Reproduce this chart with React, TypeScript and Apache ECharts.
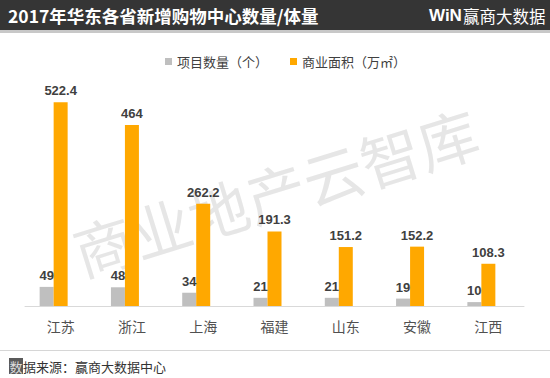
import React, { useEffect, useRef } from "react";
import * as echarts from "echarts";

const categories = ["江苏", "浙江", "上海", "福建", "山东", "安徽", "江西"];
const projectCount = [49, 48, 34, 21, 21, 19, 10];
const commercialArea = [522.4, 464, 262.2, 191.3, 151.2, 152.2, 108.3];
const seriesNames = ["项目数量（个）", "商业面积（万㎡）"];
const titleText = "2017年华东各省新增购物中心数量/体量";
const sourceText = "据来源：赢商大数据中心";

const CJK = '"Noto Sans CJK SC", "Noto Sans", sans-serif';
const LATIN = '"Liberation Sans", Arial, sans-serif';

export default function App() {
  const ref = useRef<HTMLDivElement>(null);
  useEffect(() => {
    if (!ref.current) return;
    const chart = echarts.init(ref.current, undefined, { renderer: "svg" });
    const valueLabel = {
      show: true,
      position: "top",
      distance: 5,
      fontSize: 13,
      fontWeight: "bold",
      color: "#404040",
      fontFamily: LATIN,
    };
    chart.setOption({
      animation: false,
      backgroundColor: "#ffffff",
      legend: {
        data: seriesNames,
        left: 160,
        top: 50,
        icon: "rect",
        itemWidth: 7,
        itemHeight: 7,
        itemGap: 22,
        textStyle: { fontSize: 13, color: "#404040", fontFamily: CJK },
      },
      grid: { left: 25, right: 26, top: 72, bottom: 72 },
      xAxis: {
        type: "category",
        data: categories,
        axisLine: { lineStyle: { color: "#d9d9d9", width: 1 } },
        axisTick: { show: false },
        axisLabel: { fontSize: 14, color: "#505050", margin: 13, fontFamily: CJK },
      },
      yAxis: {
        type: "value",
        min: 0,
        max: 600,
        show: false,
        splitLine: { show: false },
      },
      series: [
        {
          name: seriesNames[0],
          type: "bar",
          data: projectCount,
          barWidth: 14,
          barGap: "0%",
          itemStyle: { color: "#bfbfbf" },
          label: valueLabel,
        },
        {
          name: seriesNames[1],
          type: "bar",
          data: commercialArea,
          barWidth: 14,
          barGap: "0%",
          itemStyle: { color: "#ffa800" },
          label: valueLabel,
        },
        {
          name: "spacer",
          type: "bar",
          data: categories.map(() => 0),
          barWidth: 14,
          barGap: "0%",
          itemStyle: { opacity: 0 },
          silent: true,
        },
      ],
      graphic: [
        {
          type: "text",
          z: -10,
          x: 275,
          y: 190,
          rotation: 0.3,
          style: {
            text: "商业地产云智库",
            font: `60px ${CJK}`,
            fill: "rgba(190,190,190,0.38)",
            align: "center",
            verticalAlign: "middle",
          },
        },
        {
          type: "rect",
          shape: { x: 0, y: 0, width: 550, height: 30 },
          style: { fill: "#353535" },
        },
        {
          type: "rect",
          shape: { x: 0, y: 30, width: 550, height: 3 },
          style: { fill: "#c8c8c8" },
        },
        {
          type: "text",
          x: 8,
          y: 15,
          style: {
            text: titleText,
            font: `bold 17.5px ${CJK}`,
            fill: "#ffffff",
            verticalAlign: "middle",
          },
        },
        {
          type: "text",
          x: 429,
          y: 15,
          style: {
            text: "WiN",
            font: `900 17px ${LATIN}`,
            fill: "#ffffff",
            verticalAlign: "middle",
          },
        },
        {
          type: "text",
          x: 463,
          y: 16,
          style: {
            text: "赢商大数据",
            font: `16.5px ${CJK}`,
            fill: "#ffffff",
            verticalAlign: "middle",
          },
        },
        {
          type: "line",
          shape: { x1: 0, y1: 350.5, x2: 550, y2: 350.5 },
          style: { stroke: "#d6d6d6", lineWidth: 1 },
        },
        {
          type: "rect",
          shape: { x: 9, y: 358, width: 14, height: 16 },
          style: { fill: "#5a5a5a" },
        },
        {
          type: "text",
          x: 9.5,
          y: 366,
          style: {
            text: "数",
            font: `13px ${CJK}`,
            fill: "#dddddd",
            verticalAlign: "middle",
          },
        },
        {
          type: "text",
          x: 23,
          y: 366,
          style: {
            text: sourceText,
            font: `13px ${CJK}`,
            fill: "#333333",
            verticalAlign: "middle",
          },
        },
      ],
    });
    return () => chart.dispose();
  }, []);
  return (
    <div
      ref={ref}
      style={{ position: "absolute", left: 0, top: 0, width: 550, height: 378 }}
    />
  );
}
